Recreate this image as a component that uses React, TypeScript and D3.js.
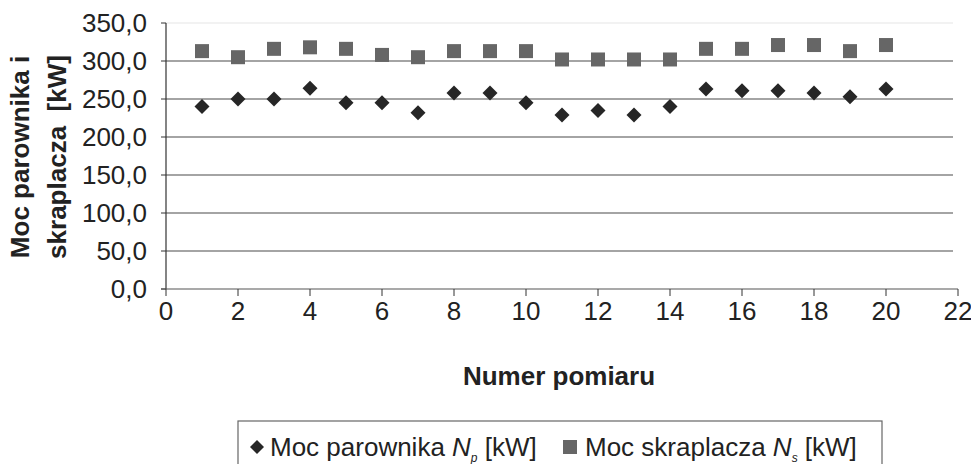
import React from "react";
import { scaleLinear, range } from "d3";

const measurements = range(1, 21);
const evaporatorPower = [240, 250, 250, 264, 245, 245, 232, 258, 258, 245, 229, 235, 229, 240, 263, 261, 261, 258, 253, 263];
const condenserPower = [313, 305, 316, 318, 316, 308, 305, 313, 313, 313, 302, 302, 302, 302, 316, 316, 321, 321, 313, 321];
const yTicks = [0, 50, 100, 150, 200, 250, 300, 350];
const xTicks = range(0, 23, 2);

const width = 971;
const height = 464;
const margin = { top: 23, right: 13, bottom: 175, left: 166 };
const innerWidth = width - margin.left - margin.right;
const innerHeight = height - margin.top - margin.bottom;

const font = "'Liberation Sans', Arial, sans-serif";
const fmt = (v: number) => v.toFixed(1).replace(".", ",");

const App = () => {
  const xScale = scaleLinear().domain([0, 22]).range([0, innerWidth]);
  const yScale = scaleLinear().domain([0, 350]).range([innerHeight, 0]);
  const s = 7;

  return (
    <svg
      width={width}
      height={height}
      style={{ position: "absolute", left: 0, top: 0 }}
      fontFamily={font}
    >
      <rect width={width} height={height} fill="white" />
      <g transform={`translate(${margin.left},${margin.top})`}>
        {yTicks.map(t => (
          <g key={t} transform={`translate(0,${yScale(t)})`}>
            {t > 0 && (
              <line
                x2={innerWidth - 5}
                stroke={t === 350 ? "#e6e6e6" : "#4a4a4a"}
                strokeWidth={1.2}
              />
            )}
            <line x1={-5} x2={0} stroke="#333" />
            <text x={-19} dy="0.35em" textAnchor="end" fontSize={26} fill="#222">
              {fmt(t)}
            </text>
          </g>
        ))}
        <line y1={0} y2={innerHeight} stroke="#333" strokeWidth={1.2} />
        <line x1={-5} x2={innerWidth} y1={innerHeight} y2={innerHeight} stroke="#555" strokeWidth={1.2} />
        {xTicks.map(t => (
          <g key={t} transform={`translate(${xScale(t)},${innerHeight})`}>
            <line y2={7} stroke="#333" />
            <text y={22} dy="0.35em" textAnchor="middle" fontSize={26} fill="#222">
              {t}
            </text>
          </g>
        ))}
        {measurements.map((m, i) => (
          <rect
            key={"s" + m}
            x={xScale(m) - s}
            y={yScale(condenserPower[i]) - s}
            width={2 * s}
            height={2 * s}
            fill="#666"
          />
        ))}
        {measurements.map((m, i) => (
          <path
            key={"d" + m}
            transform={`translate(${xScale(m)},${yScale(evaporatorPower[i])})`}
            d="M0,-7.5L7.5,0L0,7.5L-7.5,0Z"
            fill="#262626"
          />
        ))}
      </g>
      <text
        x={559}
        y={376}
        dy="0.35em"
        textAnchor="middle"
        fontSize={26}
        fontWeight="bold"
        fill="#222"
      >
        Numer pomiaru
      </text>
      <g transform="translate(20,157) rotate(-90)" fontSize={26} fontWeight="bold" fill="#222">
        <text textAnchor="middle" dy="0.35em">Moc parownika i</text>
        <text textAnchor="middle" y={37} dy="0.35em" style={{ whiteSpace: "pre" }}>
          {"skraplacza  [kW]"}
        </text>
      </g>
      <g>
        <rect x={238} y={421} width={644} height={50} fill="white" stroke="#666" strokeWidth={1.2} />
        <path d="M257,440L264,447L257,454L250,447Z" fill="#262626" />
        <text x={270} y={447} dy="0.35em" fontSize={26} fill="#222">
          Moc parownika <tspan fontStyle="italic">N</tspan>
          <tspan fontStyle="italic" fontSize={12} dy={6}>p</tspan>
          <tspan dy={-6}> [kW]</tspan>
        </text>
        <rect x={563} y={440} width={14} height={14} fill="#666" />
        <text x={585} y={447} dy="0.35em" fontSize={26} fill="#222">
          Moc skraplacza <tspan fontStyle="italic">N</tspan>
          <tspan fontStyle="italic" fontSize={12} dy={6}>s</tspan>
          <tspan dy={-6}> [kW]</tspan>
        </text>
      </g>
    </svg>
  );
};

export default App;
